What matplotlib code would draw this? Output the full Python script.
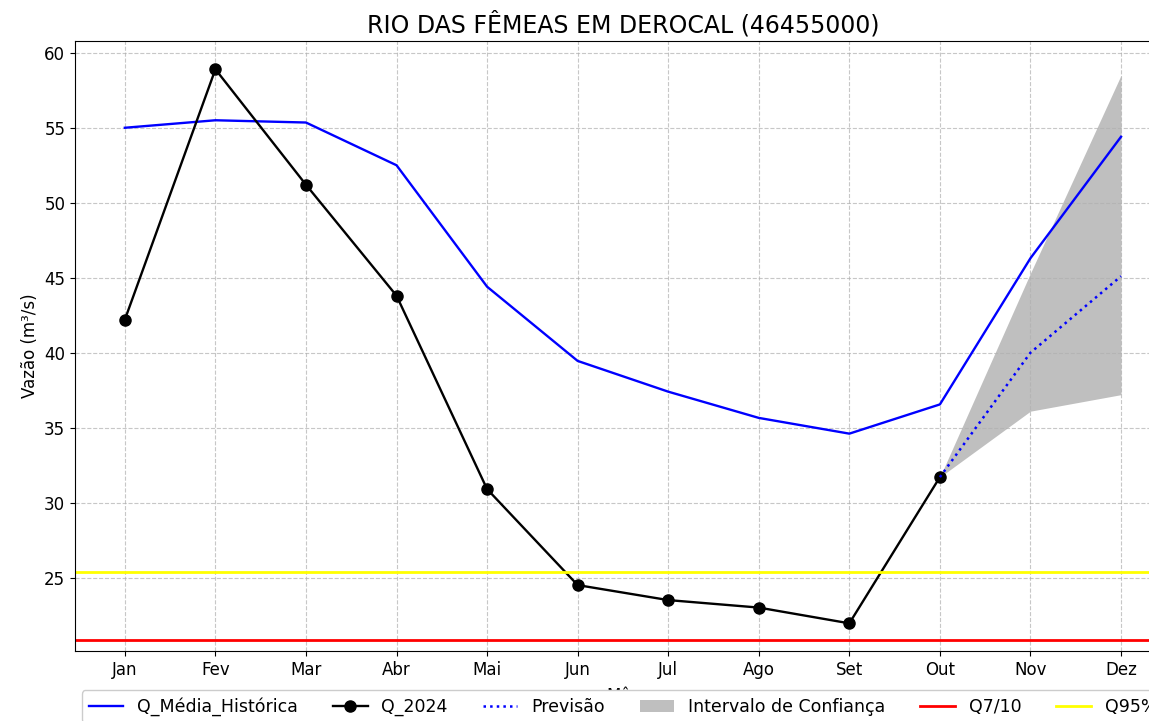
import matplotlib
matplotlib.use("Agg")
import matplotlib.pyplot as plt
import numpy as np

# Monthly labels
meses = ["Jan", "Fev", "Mar", "Abr", "Mai", "Jun", "Jul", "Ago", "Set", "Out", "Nov", "Dez"]

# Historical mean monthly discharge (m³/s)
q_media_historica = [55.0, 55.5, 55.35, 52.5, 44.4, 39.45, 37.4, 35.65, 34.6, 36.55, 46.3, 54.4]

# Observed discharge in 2024 (Jan..Out)
q_2024 = [42.2, 58.9, 51.2, 43.8, 30.9, 24.5, 23.5, 23.0, 21.95, 31.7]

# Forecast (Out..Dez) and confidence interval bounds
previsao = [31.7, 40.0, 45.1]
ic_inferior = [31.7, 36.1, 37.2]
ic_superior = [31.7, 45.3, 58.5]

# Reference flows
q7_10 = 20.87
q95 = 25.38

titulo = "RIO DAS FÊMEAS EM DEROCAL (46455000)"

fig = plt.figure(figsize=(11.49, 7.21), dpi=100)
ax = fig.add_axes([0.0653, 0.097, 0.9537, 0.846])

x_all = np.arange(len(meses))
x_obs = x_all[:len(q_2024)]
x_prev = x_all[len(q_2024) - 1:]

ax.plot(x_all, q_media_historica, color="blue", linewidth=1.7, label="Q_Média_Histórica")
ax.plot(x_obs, q_2024, color="black", linewidth=1.7, marker="o", markersize=8, label="Q_2024")
ax.plot(x_prev, previsao, color="blue", linestyle=":", linewidth=1.8, label="Previsão")
ax.fill_between(x_prev, ic_inferior, ic_superior, color="gray", alpha=0.5, linewidth=0,
                label="Intervalo de Confiança")
ax.axhline(q7_10, color="red", linewidth=2, label="Q7/10")
ax.axhline(q95, color="yellow", linewidth=2, label="Q95%")

ax.set_xticks(x_all)
ax.set_xticklabels(meses)
ax.set_xlim(-0.55, 11.55)
ax.set_ylim(20.1, 60.78)
ax.tick_params(axis="both", labelsize=12)

ax.set_title(titulo, fontsize=17)
ax.set_xlabel("Mês", fontsize=12, labelpad=6)
ax.set_ylabel("Vazão (m³/s)", fontsize=12)
ax.grid(True, linestyle="--", alpha=0.7)

leg = ax.legend(loc="upper center", bbox_to_anchor=(0.5, -0.05), ncol=6, fontsize=12.5,
                framealpha=1.0)
leg.set_zorder(10)

fig.savefig("out.png", dpi=100)
